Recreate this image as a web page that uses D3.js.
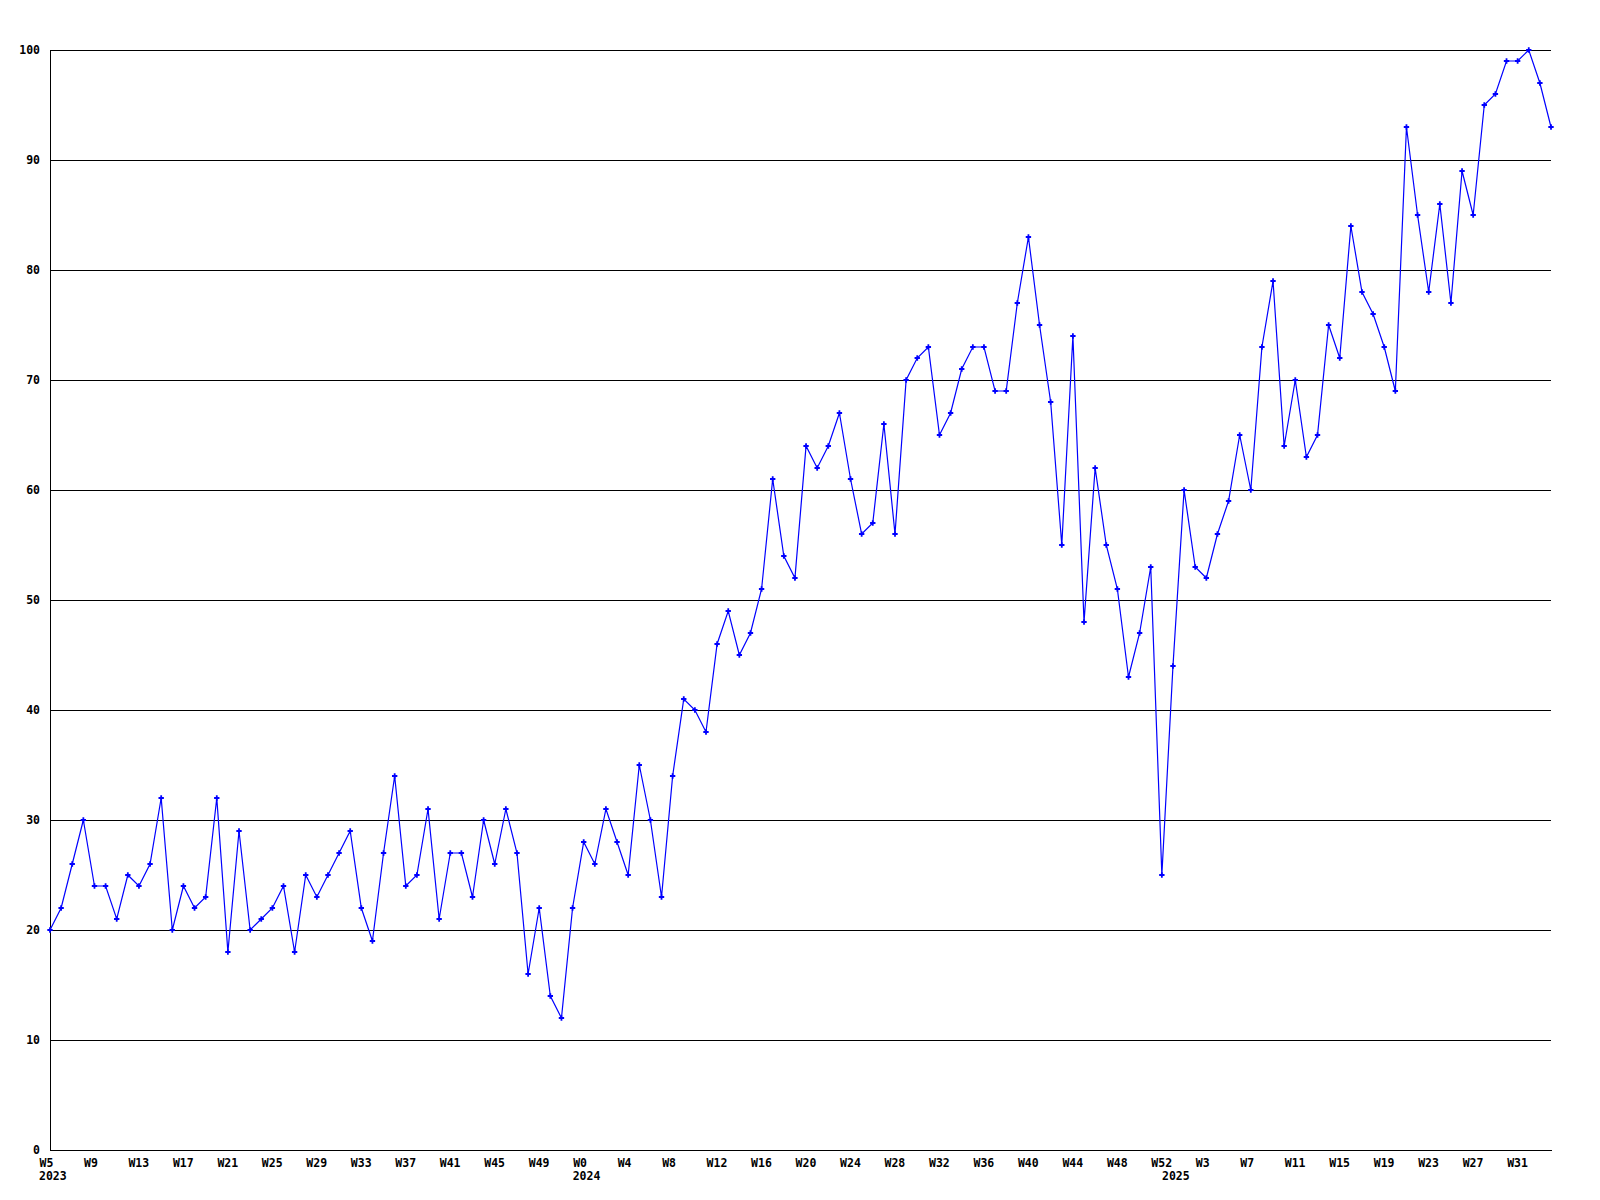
<!DOCTYPE html>
<html><head><meta charset="utf-8">
<script src="https://cdn.jsdelivr.net/npm/d3@7"></script>
<style>
html,body{margin:0;background:#fff;}
text{font-family:"DejaVu Sans Mono","Liberation Mono",monospace;font-weight:bold;font-size:11.5px;fill:#000;}
</style>
</head><body><svg id="c" width="1600" height="1200"></svg>
<script>
// year, first week, last week
const yearSpans = [[2023,5,52],[2024,0,52],[2025,0,34]];
const values = [
 20,22,26,30,24,24,21,25,24,26,32,20,24,22,23,32,18,29,20,21,22,24,18,25,23,25,27,29,22,19,
 27,34,24,25,31,21,27,27,23,30,26,31,27,16,22,14,12,22,
 28,26,31,28,25,35,30,23,34,41,40,38,46,49,45,47,51,61,54,52,64,62,64,67,61,56,57,66,56,70,
 72,73,65,67,71,73,73,69,69,77,83,75,68,55,74,48,62,55,51,43,47,53,25,
 44,60,53,52,56,59,65,60,73,79,64,70,63,65,75,72,84,78,76,73,69,93,85,78,86,77,89,85,95,96,
 99,99,100,97,93
];
const yTicks = [0,10,20,30,40,50,60,70,80,90,100];
const tickEvery = 4;

const categories = [];
yearSpans.forEach(([yr,w0,w1]) => { for (let w=w0; w<=w1; w++) categories.push({key: yr+"-W"+w, year: yr, week: w}); });
const data = categories.map((c,i) => ({...c, value: values[i]}));

const svg = d3.select("#c");
const L = 50, R = 1551, T = 50, B = 1150;
const x = d3.scalePoint().domain(categories.map(c => c.key)).range([L, R]);
const y = d3.scaleLinear().domain([0,100]).range([B, T]);

// y axis with gridlines
const gy = svg.append("g").attr("transform", `translate(${L},0)`)
  .call(d3.axisLeft(y).tickValues(yTicks).tickSize(-(R-L)).tickSizeOuter(0).tickPadding(10).tickFormat(d3.format("d")));
gy.selectAll("line").attr("stroke","#000").attr("shape-rendering","crispEdges");
gy.select(".domain").attr("stroke","#000").attr("shape-rendering","crispEdges");
gy.selectAll("text").style("font-family",null).style("font-size",null).attr("font-family",null).attr("font-size",null);
gy.attr("font-family",null).attr("font-size",null);

// x axis
const tickCats = categories.filter((c,i) => i % tickEvery === 0).map(c => c.key);
const byKey = new Map(categories.map(c => [c.key, c]));
const gx = svg.append("g").attr("transform", `translate(0,${B})`)
  .call(d3.axisBottom(x).tickValues(tickCats).tickSize(0).tickSizeOuter(0).tickFormat(k => "W" + byKey.get(k).week));
gx.attr("font-family",null).attr("font-size",null);
gx.select(".domain").attr("stroke","#000").attr("shape-rendering","crispEdges");
gx.selectAll("text").attr("text-anchor","start").attr("x",-11).attr("y",17).attr("dy",null);

// year labels at first week of each year
const firstOfYear = yearSpans.map(([yr,w0]) => yr + "-W" + w0);
svg.append("g").selectAll("text").data(firstOfYear).join("text")
  .attr("x", k => x(k) - 11).attr("y", B + 30)
  .text(k => byKey.get(k).year);

// line
svg.append("path").datum(data)
  .attr("fill","none").attr("stroke","#0000ff").attr("stroke-width",1.2)
  .attr("d", d3.line().x(d => x(d.key)).y(d => y(d.value)));

// markers
svg.append("g").selectAll("path").data(data).join("path")
  .attr("transform", d => `translate(${x(d.key)},${y(d.value)})`)
  .attr("d", d3.symbol(d3.symbolCross, 16))
  .attr("fill","#0000ff");
</script>
</body></html>
